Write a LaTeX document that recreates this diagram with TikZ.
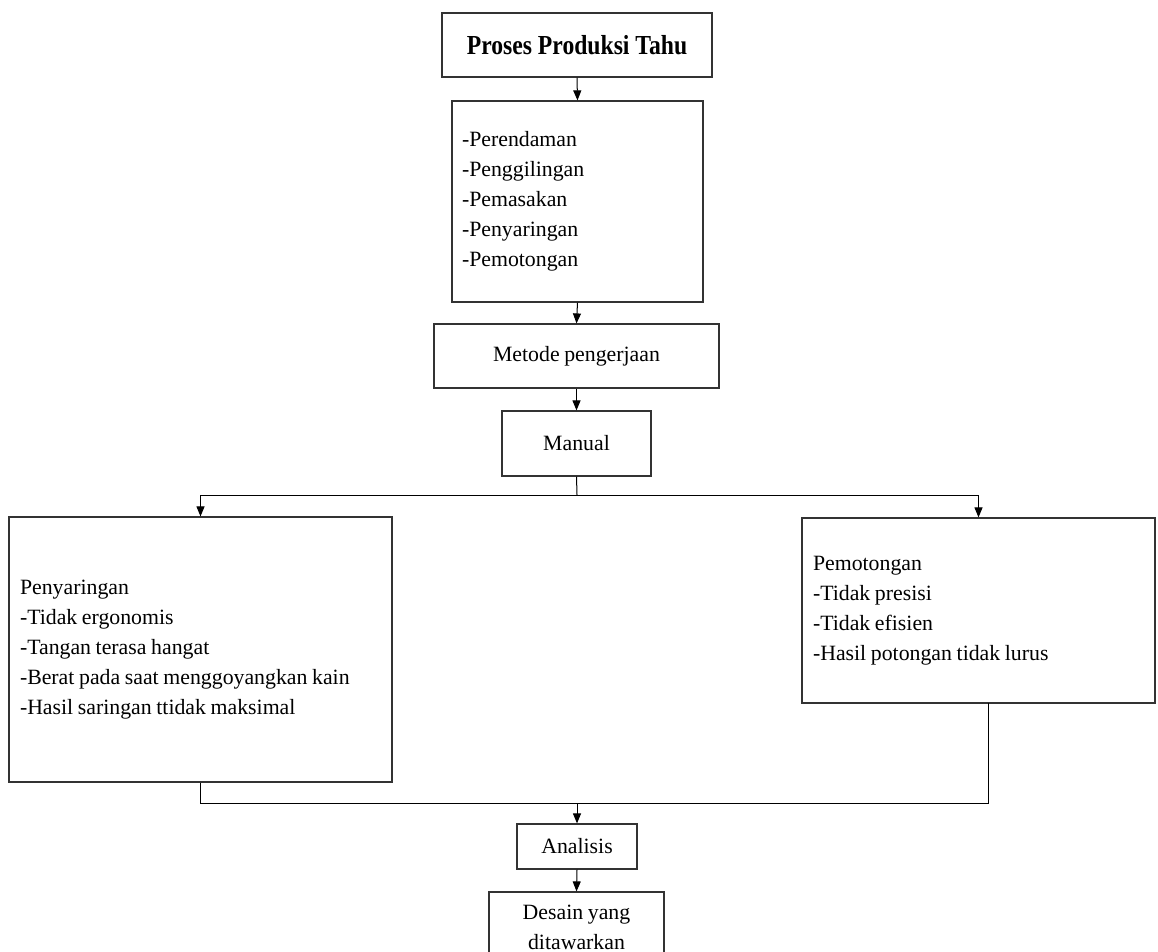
\documentclass[tikz,border=0pt]{standalone}
\usepackage{fontspec}
\setmainfont{Liberation Serif}[WordSpace=0.85]
\newfontfamily\titlefont{Liberation Serif}[FakeStretch=0.86]
\usetikzlibrary{arrows.meta}
\begin{document}
\begin{tikzpicture}[x=1pt,y=-1pt,
  box/.style={draw=black!80, line width=1.2pt, inner sep=0pt, font=\fontsize{21.8}{30}\selectfont},
  conn/.style={line width=1pt, black},
  arr/.style={conn, -{Triangle[length=10pt,width=8pt]}}]
\useasboundingbox[fill=white] (0,0) rectangle (1158,951);

\node[box, minimum width=270pt, minimum height=64pt, font=\titlefont\bfseries\fontsize{27.5}{30}\selectfont] (title) at (577,45) {Proses Produksi Tahu};

\node[box, minimum width=251pt, minimum height=201pt, text width=231pt, align=flush left] (steps) at (577.5,201.5)
  {-Perendaman\\-Penggilingan\\-Pemasakan\\-Penyaringan\\-Pemotongan};

\node[box, minimum width=285pt, minimum height=64pt] (metode) at (576.5,356) {Metode pengerjaan};

\node[box, minimum width=149pt, minimum height=65pt] (manual) at (576.5,443.5) {Manual};

\node[box, minimum width=383pt, minimum height=265pt, text width=361pt, align=flush left] (left) at (200.5,649.5)
  {Penyaringan\\-Tidak ergonomis\\-Tangan terasa hangat\\-Berat pada saat menggoyangkan kain\\-Hasil saringan ttidak maksimal};

\node[box, minimum width=353pt, minimum height=185pt, text width=331pt, align=flush left] (right) at (978.5,610.5)
  {Pemotongan\\-Tidak presisi\\-Tidak efisien\\-Hasil potongan tidak lurus};

\node[box, minimum width=120pt, minimum height=45pt] (ana) at (577,846.5) {Analisis};

\node[box, minimum width=175pt, minimum height=70pt, align=center] (desain) at (576.5,927) {Desain yang\\ditawarkan};

\coordinate (js) at (577,495);
\coordinate (jb) at (577,803);
\coordinate (rb) at (988,703);

\draw[arr] (title.south) -- (steps.north);
\draw[arr] (steps.south) -- (metode.north);
\draw[arr] (metode.south) -- (manual.north);
\draw[conn] (manual.south) -- (js);
\draw[arr] (js) -| (left.north);
\draw[arr] (js) -| (right.north);
\draw[conn] (left.south) |- (jb) -| (rb);
\draw[arr] (jb) -- (ana.north);
\draw[arr] (ana.south) -- (desain.north);
\end{tikzpicture}
\end{document}
